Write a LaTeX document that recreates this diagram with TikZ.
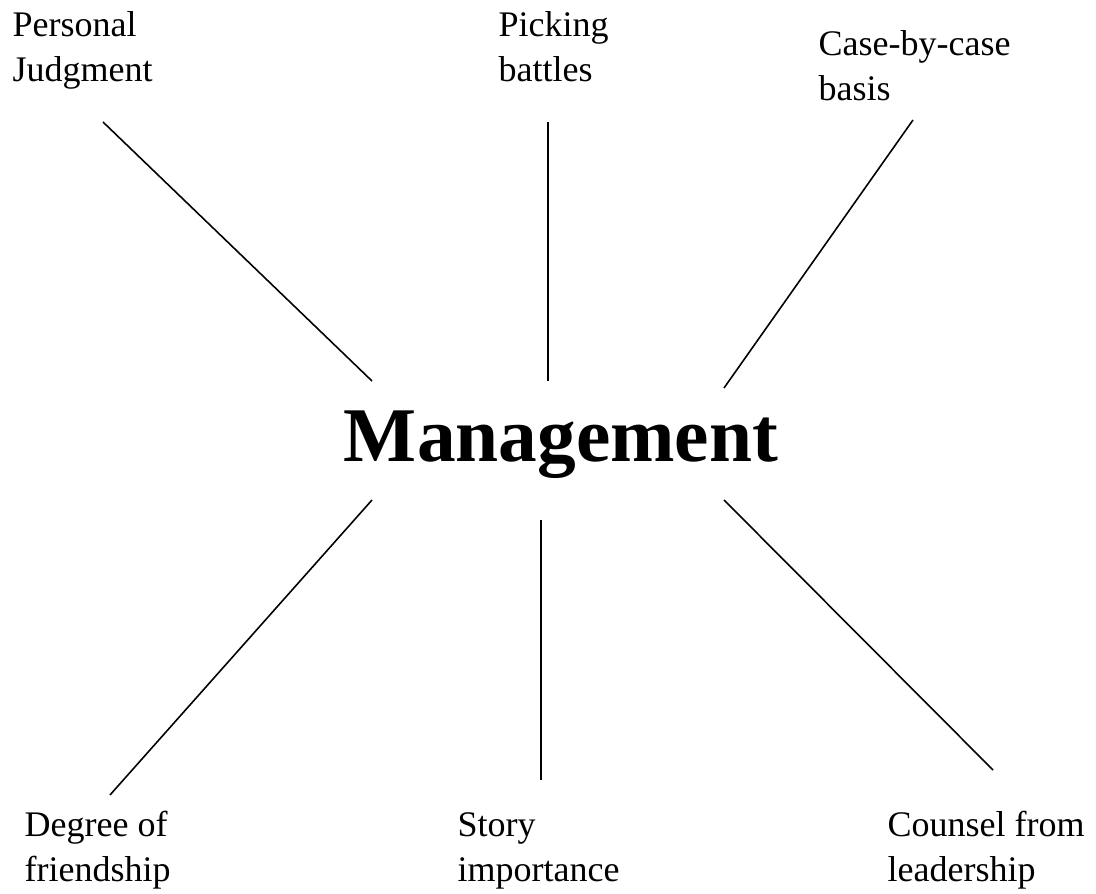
\documentclass[tikz,border=0pt]{standalone}
\usepackage{fontspec}
\setmainfont{Liberation Serif}
\usepackage{tikz}
\tikzstyle{topic} = [inner sep=0pt, align=left, anchor=base west,
    font=\fontsize{10.24pt}{12.8pt}\selectfont]
\tikzstyle{hub} = [inner sep=0pt, font=\fontsize{22pt}{24pt}\selectfont\bfseries]
\tikzstyle{line} = [draw, line width=0.45pt]
\begin{document}
\begin{tikzpicture}[x=0.01cm, y=-0.01cm]
   \useasboundingbox (0,0) rectangle (1096,894);
   \node [hub, anchor=base] (mgmt) at (561,462) {Management};

   % anchored at the baseline of the second line
   \node [topic] (judge) at (12,82) {Personal\\Judgment};
   \node [topic] (battles) at (498,82) {Picking\\battles};
   \node [topic] (case) at (818,101) {Case-by-case\\basis};
   \node [topic] (friend) at (24,882) {Degree of\\friendship};
   \node [topic] (story) at (457,882) {Story\\importance};
   \node [topic] (counsel) at (887,882) {Counsel from\\leadership};

   % spoke ends
   \coordinate (judge-a) at (103,122);  \coordinate (judge-b) at (372,381);
   \coordinate (battles-a) at (548,122); \coordinate (battles-b) at (548,381);
   \coordinate (case-a) at (913,120);   \coordinate (case-b) at (724,388);
   \coordinate (friend-a) at (110,795); \coordinate (friend-b) at (372,500);
   \coordinate (story-a) at (541,780);  \coordinate (story-b) at (541,520);
   \coordinate (counsel-a) at (993,770); \coordinate (counsel-b) at (724,500);

   \path [line] (judge-a) -- (judge-b);
   \path [line] (battles-a) -- (battles-b);
   \path [line] (case-a) -- (case-b);
   \path [line] (friend-a) -- (friend-b);
   \path [line] (story-a) -- (story-b);
   \path [line] (counsel-a) -- (counsel-b);
\end{tikzpicture}
\end{document}
